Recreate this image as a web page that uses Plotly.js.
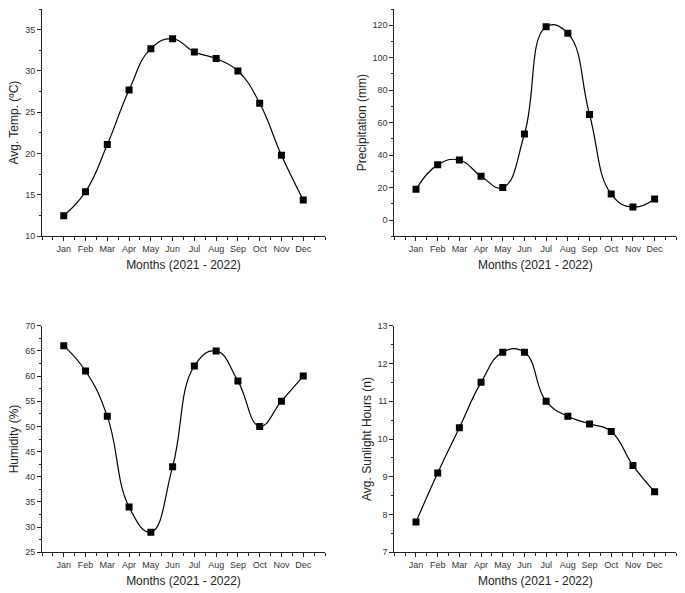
<!DOCTYPE html>
<html>
<head>
<meta charset="utf-8">
<script src="https://cdn.plot.ly/plotly-3.0.1.min.js"></script>
<style>html,body{margin:0;padding:0;background:#fff;}#chart{width:685px;height:593px;}</style>
</head>
<body>
<div id="chart"></div>
<script>
const months = ["Jan","Feb","Mar","Apr","May","Jun","Jul","Aug","Sep","Oct","Nov","Dec"];
const monthPos = [1,2,3,4,5,6,7,8,9,10,11,12];
const temperature = [12.5,15.4,21.1,27.7,32.7,33.9,32.3,31.5,30.0,26.1,19.8,14.4];
const precipitation = [19,34,37,27,20,53,119,115,65,16,8,13];
const humidity = [66,61,52,34,29,42,62,65,59,50,55,60];
const sunlight = [7.8,9.1,10.3,11.5,12.3,12.3,11.0,10.6,10.4,10.2,9.3,8.6];
const xTitle = "Months (2021 - 2022)";

const W = 685, H = 593;
const font = {family: "Liberation Sans, Arial, sans-serif", color: "#222"};

function trace(y, xa, ya) {
  return {
    x: monthPos, y: y, xaxis: xa, yaxis: ya, type: "scatter", mode: "lines+markers",
    line: {color: "#000", width: 1.2, shape: "spline", smoothing: 1.3},
    marker: {symbol: "square", size: 7, color: "#000"},
    showlegend: false, hoverinfo: "skip"
  };
}

function xAxis(x0, x1, anchor) {
  return {
    domain: [x0 / W, x1 / W], anchor: anchor, range: [0, 13],
    tickmode: "array", tickvals: monthPos, ticktext: months,
    ticks: "outside", ticklen: 4, tickwidth: 1, tickcolor: "#222",
    minor: {tickmode: "linear", tick0: 0, dtick: 0.5, ticks: "outside", ticklen: 3, tickcolor: "#222", showgrid: false},
    showline: true, linecolor: "#222", linewidth: 1, mirror: false,
    showgrid: false, zeroline: false, fixedrange: true,
    tickfont: {family: font.family, size: 9, color: "#333"},
    title: {text: xTitle, font: {family: font.family, size: 12, color: "#222"}, standoff: 7}
  };
}

function yAxis(y0, y1, anchor, range, tick0, dtick, title) {
  return {
    domain: [1 - y1 / H, 1 - y0 / H], anchor: anchor, range: range,
    tickmode: "linear", tick0: tick0, dtick: dtick,
    ticks: "outside", ticklen: 4, tickwidth: 1, tickcolor: "#222",
    minor: {tickmode: "linear", tick0: tick0, dtick: dtick / 2, ticks: "outside", ticklen: 2, tickcolor: "#222", showgrid: false},
    showline: true, linecolor: "#222", linewidth: 1, mirror: false,
    showgrid: false, zeroline: false, fixedrange: true,
    tickfont: {family: font.family, size: 9, color: "#333"},
    title: {text: title, font: {family: font.family, size: 12, color: "#222"}, standoff: 3}
  };
}

const data = [
  trace(temperature, "x", "y"),
  trace(precipitation, "x2", "y2"),
  trace(humidity, "x3", "y3"),
  trace(sunlight, "x4", "y4")
];

const layout = {
  width: W, height: H,
  margin: {l: 0, r: 0, t: 0, b: 0},
  paper_bgcolor: "#fff", plot_bgcolor: "#fff",
  font: font,
  xaxis: xAxis(42, 325, "y"),
  yaxis: yAxis(9, 236.3, "x", [10, 37.5], 10, 5, "Avg. Temp. (ºC)"),
  xaxis2: xAxis(394.3, 676.3, "y2"),
  yaxis2: yAxis(9, 236.3, "x2", [-10, 130], 0, 20, "Precipitation (mm)"),
  xaxis3: xAxis(42, 325, "y3"),
  yaxis3: yAxis(325.7, 552.3, "x3", [25, 70], 25, 5, "Humidity (%)"),
  xaxis4: xAxis(394.3, 676.3, "y4"),
  yaxis4: yAxis(325.7, 552.3, "x4", [7, 13], 7, 1, "Avg. Sunlight Hours (n)")
};

Plotly.newPlot("chart", data, layout, {staticPlot: true, displayModeBar: false});
</script>
</body>
</html>
